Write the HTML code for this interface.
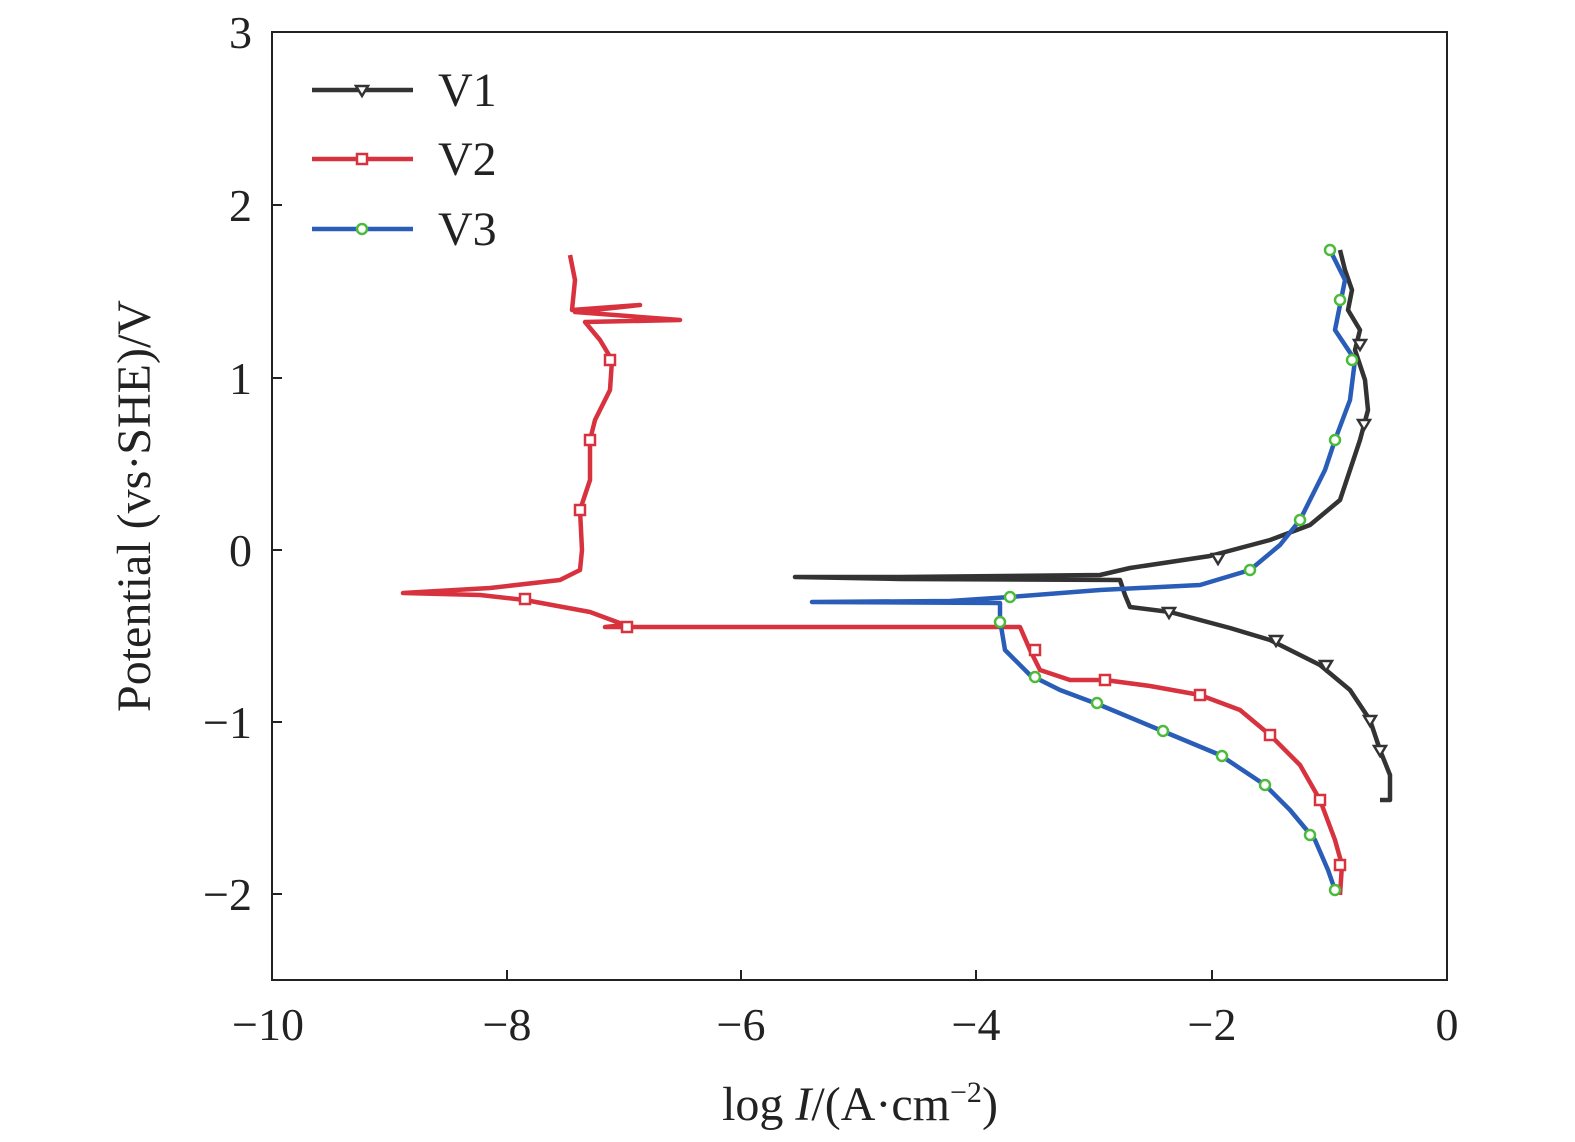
<!DOCTYPE html>
<html><head><style>body{margin:0;background:#fff}svg{display:block}</style></head><body>
<svg width="1575" height="1142" viewBox="0 0 1575 1142" xmlns="http://www.w3.org/2000/svg" font-family="Liberation Serif, serif">
<rect width="1575" height="1142" fill="#fff"/>
<rect x="272" y="32" width="1175" height="948" fill="none" stroke="#222" stroke-width="2"/>
<g stroke="#222" stroke-width="2">
<line x1="507" y1="980" x2="507" y2="970"/><line x1="741" y1="980" x2="741" y2="970"/><line x1="976" y1="980" x2="976" y2="970"/><line x1="1212" y1="980" x2="1212" y2="970"/>
<line x1="272" y1="205" x2="282" y2="205"/><line x1="272" y1="378" x2="282" y2="378"/><line x1="272" y1="550" x2="282" y2="550"/><line x1="272" y1="722" x2="282" y2="722"/><line x1="272" y1="894" x2="282" y2="894"/>
</g>
<g font-size="46" fill="#222" text-anchor="middle">
<text x="268" y="1040">−10</text><text x="507" y="1040">−8</text><text x="741" y="1040">−6</text><text x="976" y="1040">−4</text><text x="1212" y="1040">−2</text><text x="1447" y="1040">0</text>
</g>
<g font-size="46" fill="#222" text-anchor="end">
<text x="252" y="48">3</text><text x="252" y="221">2</text><text x="252" y="394">1</text><text x="252" y="566">0</text><text x="252" y="738">−1</text><text x="252" y="910">−2</text>
</g>
<text x="860" y="1120" font-size="48" text-anchor="middle" fill="#222">log <tspan font-style="italic">I</tspan>/(A·cm<tspan dy="-18" font-size="30">−2</tspan><tspan dy="18">)</tspan></text>
<text transform="translate(150,506) rotate(-90)" font-size="48" text-anchor="middle" fill="#222">Potential (vs·SHE)/V</text>
<g stroke-width="4.5" fill="none" stroke-linejoin="round">
<line x1="312" y1="90" x2="413" y2="90" stroke="#333"/>
<line x1="312" y1="159" x2="413" y2="159" stroke="#d8323f"/>
<line x1="312" y1="229" x2="413" y2="229" stroke="#2a5db8"/>
<polyline stroke="#333" points="1340,250 1345,270 1352,290 1348,310 1360,330 1355,350 1365,380 1368,410 1360,440 1350,470 1340,500 1310,525 1270,540 1210,556 1130,568 1100,575 900,577 795,577 900,579 1120,580 1125,595 1130,607 1170,612 1230,628 1270,640 1320,665 1350,690 1370,720 1380,750 1390,775 1390,800 1380,800"/>
<polyline stroke="#d8323f" points="570,255 575,280 572,310 640,305 575,312 680,320 585,322 600,340 612,360 610,390 595,420 590,440 590,480 580,510 582,550 580,570 560,580 490,588 403,593 480,595 525,600 590,612 625,625 605,627 1020,627 1030,650 1040,670 1070,680 1105,680 1150,686 1200,695 1240,710 1270,735 1300,765 1320,800 1335,840 1342,865 1340,895"/>
<polyline stroke="#2a5db8" points="1330,250 1345,280 1335,330 1355,360 1350,400 1335,440 1325,470 1315,490 1300,520 1280,545 1250,570 1200,585 1100,590 1010,597 950,601 812,602 1000,603 1000,620 1005,650 1030,675 1060,690 1100,705 1160,730 1220,755 1265,785 1290,810 1315,840 1328,870 1335,890"/>
</g>
<g fill="#fff" stroke-width="2.5">
<g stroke="#333"><path d="M356,86 h12 l-6,10z"/><path d="M1212,554 h12 l-6,10z"/><path d="M1270,636 h12 l-6,10z"/><path d="M1320,661 h12 l-6,10z"/><path d="M1364,716 h12 l-6,10z"/><path d="M1374,746 h12 l-6,10z"/><path d="M1358,420 h12 l-6,10z"/><path d="M1354,340 h12 l-6,10z"/><path d="M1163,608 h12 l-6,10z"/></g>
<g stroke="#d8323f"><rect x="357" y="154" width="10" height="10"/><rect x="520" y="594" width="10" height="10"/><rect x="622" y="622" width="10" height="10"/><rect x="1030" y="645" width="10" height="10"/><rect x="1100" y="675" width="10" height="10"/><rect x="1195" y="690" width="10" height="10"/><rect x="1265" y="730" width="10" height="10"/><rect x="1315" y="795" width="10" height="10"/><rect x="1335" y="860" width="10" height="10"/><rect x="605" y="355" width="10" height="10"/><rect x="585" y="435" width="10" height="10"/><rect x="575" y="505" width="10" height="10"/></g>
<g stroke="#4cbb3c"><circle cx="362" cy="229" r="5"/><circle cx="1330" cy="250" r="5"/><circle cx="1340" cy="300" r="5"/><circle cx="1352" cy="360" r="5"/><circle cx="1335" cy="440" r="5"/><circle cx="1300" cy="520" r="5"/><circle cx="1250" cy="570" r="5"/><circle cx="1010" cy="597" r="5"/><circle cx="1000" cy="622" r="5"/><circle cx="1035" cy="677" r="5"/><circle cx="1097" cy="703" r="5"/><circle cx="1163" cy="731" r="5"/><circle cx="1222" cy="756" r="5"/><circle cx="1265" cy="785" r="5"/><circle cx="1310" cy="835" r="5"/><circle cx="1335" cy="890" r="5"/></g>
</g>
<g font-size="48" fill="#222"><text x="438" y="106">V1</text><text x="438" y="175">V2</text><text x="438" y="245">V3</text></g>
</svg>
</body></html>
